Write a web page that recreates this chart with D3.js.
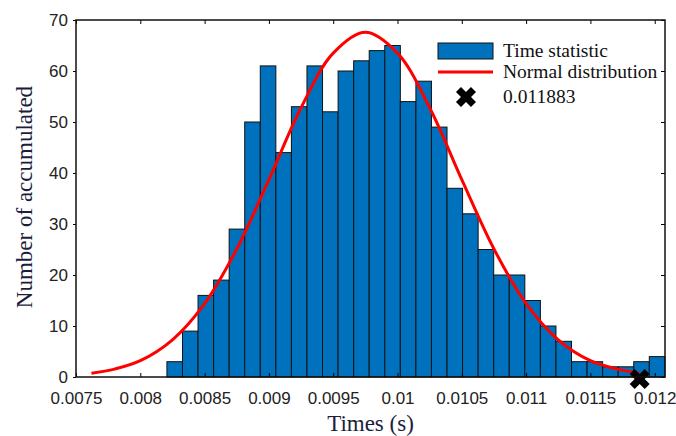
<!DOCTYPE html>
<html>
<head>
<meta charset="utf-8">
<script src="https://cdn.jsdelivr.net/npm/d3@7"></script>
<style>
  body { margin: 0; background: #fff; }
  svg { display: block; }
</style>
</head>
<body>
<div id="chart"></div>
<script>
// histogram counts, 32 equal bins
const counts = [3, 9, 16, 19, 29, 50, 61, 44, 53, 61, 52, 60, 62, 64, 65, 54,
  58, 49, 37, 32, 25, 20, 20, 15, 10, 7, 3, 3, 2, 2, 3, 4];
const binStart = 0.008207;
const binWidth = 0.000121;

// normal distribution curve
const curveX = [0.00762, 0.0078, 0.008, 0.00825, 0.0085, 0.00875, 0.009, 0.00925, 0.0095,
  0.00975, 0.01, 0.01025, 0.0105, 0.01075, 0.011, 0.01125, 0.0115, 0.0117, 0.01188];
const curveY = [0.75, 1.55, 3.2, 7.3, 14.4, 25.1, 38.7, 52.8, 63.5,
  67.6, 63.5, 52.8, 38.7, 25.1, 14.4, 7.3, 3.2, 1.6, 0.75];

const markerValue = 0.011883;

const xTicks = [0.0075, 0.008, 0.0085, 0.009, 0.0095, 0.01, 0.0105, 0.011, 0.0115, 0.012];
const xTickLabels = ["0.0075", "0.008", "0.0085", "0.009", "0.0095", "0.01", "0.0105", "0.011", "0.0115", "0.012"];
const yTicks = [0, 10, 20, 30, 40, 50, 60, 70];

const w = 676;
const h = 436;
const margin = { top: 20, bottom: 59, left: 76, right: 11 };

const svg = d3.select("#chart")
  .append("svg")
  .attr("width", w)
  .attr("height", h);

const x = d3.scaleLinear()
  .domain([0.0075, 0.01208])
  .range([margin.left, w - margin.right]);

const y = d3.scaleLinear()
  .domain([0, 70])
  .range([h - margin.bottom, margin.top]);

// bars
svg.append("g")
  .attr("fill", "#0072BD")
  .attr("stroke", "#111")
  .attr("stroke-width", 1)
  .selectAll("rect")
  .data(counts)
  .join("rect")
    .attr("x", (d, i) => x(binStart + i * binWidth))
    .attr("y", d => y(d))
    .attr("width", (d, i) => x(binStart + (i + 1) * binWidth) - x(binStart + i * binWidth))
    .attr("height", d => y(0) - y(d));

// fitted curve
const line = d3.line()
  .x(d => x(d[0]))
  .y(d => y(d[1]))
  .curve(d3.curveCatmullRom);

svg.append("path")
  .datum(curveX.map((v, i) => [v, curveY[i]]))
  .attr("fill", "none")
  .attr("stroke", "#f00")
  .attr("stroke-width", 3)
  .attr("d", line);

// marker at the max value
const cross = d3.symbol().type(d3.symbolCross).size(250);
svg.append("path")
  .attr("d", cross())
  .attr("fill", "#000")
  .attr("transform", `translate(${x(markerValue)},${y(0) + 2}) rotate(45)`);

//axes

const tickFont = "'Liberation Sans', Arial, sans-serif";

function xAxis(g) {
  g.attr("transform", `translate(0, ${h - margin.bottom})`)
    .call(d3.axisBottom(x).tickValues(xTicks).tickSize(-4).tickPadding(15)
      .tickFormat((d, i) => xTickLabels[i]))
    .attr("font-size", "17px")
    .attr("font-family", tickFont);
  g.select(".domain").remove();
  g.selectAll("text").attr("fill", "#222");
}

function xAxisTop(g) {
  g.attr("transform", `translate(0, ${margin.top})`)
    .call(d3.axisTop(x).tickValues(xTicks).tickSize(-4).tickFormat(""));
  g.select(".domain").remove();
}

function yAxis(g) {
  g.attr("transform", `translate(${margin.left}, 0)`)
    .call(d3.axisLeft(y).tickValues(yTicks).tickSize(3).tickPadding(5))
    .attr("font-size", "17px")
    .attr("font-family", tickFont);
  g.select(".domain").remove();
  g.selectAll("text").attr("fill", "#222");
}

function yAxisRight(g) {
  g.attr("transform", `translate(${w - margin.right}, 0)`)
    .call(d3.axisRight(y).tickValues(yTicks).tickSize(-4).tickFormat(""));
  g.select(".domain").remove();
}

svg.append("g").call(xAxis);
svg.append("g").call(xAxisTop);
svg.append("g").call(yAxis);
svg.append("g").call(yAxisRight);

// box
svg.append("rect")
  .attr("x", margin.left)
  .attr("y", margin.top)
  .attr("width", w - margin.left - margin.right)
  .attr("height", h - margin.top - margin.bottom)
  .attr("fill", "none")
  .attr("stroke", "#111")
  .attr("stroke-width", 1.5);

// axis titles
const serif = "'Liberation Serif', 'Times New Roman', serif";

svg.append("text")
  .attr("x", (margin.left + w - margin.right) / 2)
  .attr("y", 431)
  .attr("text-anchor", "middle")
  .attr("font-family", serif)
  .attr("font-size", "23px")
  .attr("fill", "#1c1c3c")
  .text("Times (s)");

svg.append("text")
  .attr("transform", "translate(32, 197) rotate(-90)")
  .attr("text-anchor", "middle")
  .attr("font-family", serif)
  .attr("font-size", "23px")
  .attr("fill", "#1c1c3c")
  .text("Number of accumulated");

// legend
const legend = svg.append("g")
  .attr("font-family", serif)
  .attr("font-size", "19.5px")
  .attr("fill", "#111");

legend.append("rect")
  .attr("x", 438).attr("y", 43)
  .attr("width", 55).attr("height", 16)
  .attr("fill", "#0072BD")
  .attr("stroke", "#111")
  .attr("stroke-width", 1);
legend.append("text").attr("x", 503).attr("y", 57).text("Time statistic");

legend.append("line")
  .attr("x1", 438).attr("x2", 493)
  .attr("y1", 72).attr("y2", 72)
  .attr("stroke", "#f00")
  .attr("stroke-width", 3);
legend.append("text").attr("x", 503).attr("y", 78).text("Normal distribution");

legend.append("path")
  .attr("d", cross())
  .attr("fill", "#000")
  .attr("transform", "translate(466,97) rotate(45)");
legend.append("text").attr("x", 503).attr("y", 103).text(markerValue.toString());
</script>
</body>
</html>
